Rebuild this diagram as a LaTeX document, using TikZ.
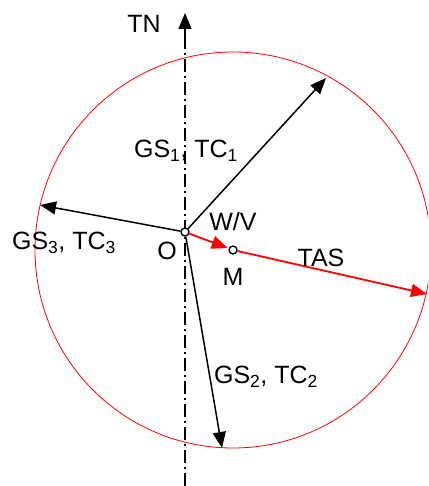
\documentclass[tikz,border=0pt]{standalone}
\usepackage{fontspec}
\setmainfont{Liberation Sans}
\usetikzlibrary{arrows.meta}
\begin{document}
\begin{tikzpicture}[x=1pt,y=-1pt,
  dot/.style={circle,draw=black,fill=white,line width=1.3pt,inner sep=0pt,minimum size=8pt},
  vec/.style={line width=1.5pt,-{Triangle[length=16pt,width=13pt]}},
  redvec/.style={vec,red,line width=1.8pt},
  lbl/.style={font=\fontsize{25}{29}\selectfont,inner sep=0pt},
  axis/.style={line width=1.3pt,dash pattern=on 13pt off 4pt on 2pt off 4pt}]
\useasboundingbox (0,0) rectangle (428,486);
\clip (0,0) rectangle (428,486);
\coordinate (TNb) at (185,486);
\coordinate (TNm) at (185,38);
\coordinate (TNt) at (185,13);
\coordinate (G1) at (326,78);
\coordinate (G2) at (222,448);
\coordinate (G3) at (40,205);
\coordinate (T) at (427,294);
\coordinate (Mc) at (233,250);
\draw[red,line width=0.8pt] (Mc) circle[radius=198];
\draw[axis] (TNb) -- (TNm);
\draw[vec,line width=1.3pt] (TNm) -- (TNt);
\node[dot] (O) at (185,232) {};
\node[dot] (M) at (Mc) {};
\draw[vec] (O) -- (G1);
\draw[vec] (O) -- (G2);
\draw[vec] (O) -- (G3);
\draw[redvec,shorten >=1pt] (O) -- (M);
\draw[redvec] (M) -- (T);
\node[lbl] (tn) at (144,24) {TN};
\node[lbl] (l1) at (186,151) {GS\textsubscript{1}, TC\textsubscript{1}};
\node[lbl] (l3) at (64,243) {GS\textsubscript{3}, TC\textsubscript{3}};
\node[lbl] (l2) at (266,377) {GS\textsubscript{2}, TC\textsubscript{2}};
\node[lbl] (lo) at (167,251) {O};
\node[lbl] (lwv) at (233,222) {W/V};
\node[lbl] (lm) at (233,277) {M};
\node[lbl] (lt) at (321,258) {TAS};
\end{tikzpicture}
\end{document}
